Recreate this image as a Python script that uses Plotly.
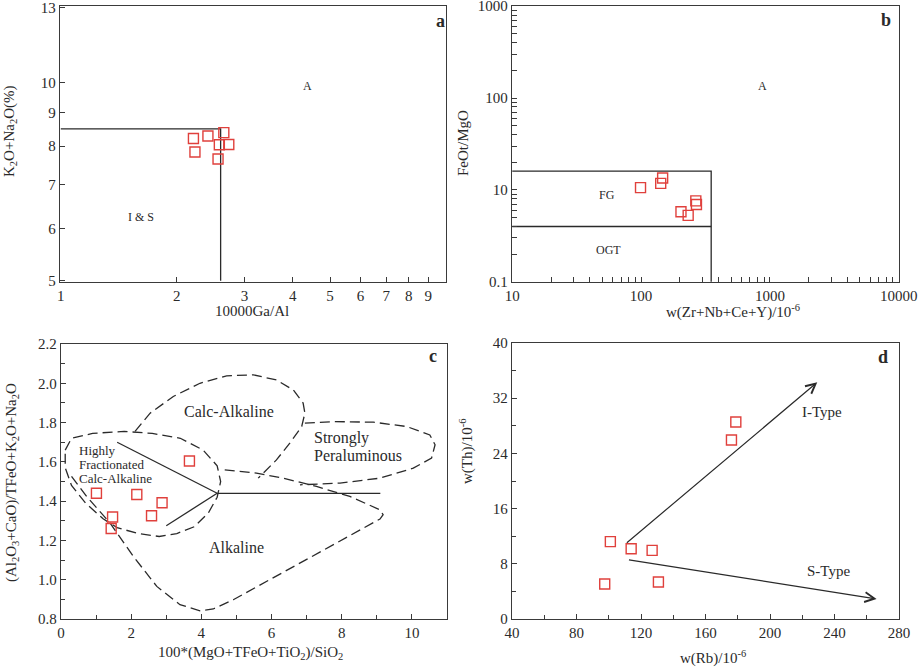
import numpy as np
import plotly.graph_objects as go

# ---- panel a: 10000Ga/Al vs K2O+Na2O ----
a_gaal = [2.21, 2.41, 2.65, 2.58, 2.73, 2.23, 2.56]
a_alk = [8.22, 8.29, 8.39, 8.04, 8.05, 7.84, 7.65]
a_bound_x = [1, 2.6, 2.6]
a_bound_y = [8.5, 8.5, 5]
a_xticks = [1, 2, 3, 4, 5, 6, 7, 8, 9]
a_yticks = [5, 6, 7, 8, 9, 10, 13]

# ---- panel b: Zr+Nb+Ce+Y vs FeOt/MgO ----
b_zr = [99, 142, 147, 204, 232, 266, 269]
b_feo = [10.6, 11.8, 13.5, 5.78, 5.28, 7.6, 6.95]
b_box_x = [10, 350, 350]
b_box_y = [16, 16, 1]
b_mid_x = [10, 350]
b_mid_y = [4, 4]
b_xticks = [10, 100, 1000, 10000]
b_yticks = [1, 10, 100, 1000]
b_yticktext = ["0.1", "10", "100", "1000"]

# ---- panel c: Sylvester diagram ----
c_x = [1.01, 2.16, 3.66, 2.88, 2.58, 1.47, 1.43]
c_y = [1.44, 1.434, 1.604, 1.392, 1.326, 1.319, 1.261]
c_solid = [
    ([1.6, 4.45], [1.70, 1.44]),
    ([4.45, 9.1], [1.44, 1.44]),
    ([3.0, 4.45], [1.275, 1.44]),
]
c_hfca_x = [0.12, 0.3, 0.9, 1.8, 2.6, 3.4, 4.05, 4.45, 4.55, 4.45, 4.2, 3.8,
            3.3, 2.8, 2.2, 1.6, 1.2, 0.7, 0.3, 0.12, 0.12]
c_hfca_y = [1.66, 1.72, 1.745, 1.755, 1.745, 1.72, 1.66, 1.58, 1.5, 1.42, 1.34,
            1.27, 1.235, 1.22, 1.235, 1.265, 1.31, 1.39, 1.48, 1.57, 1.66]
c_alk_x = [0.3, 0.73, 1.4, 2.06, 2.73, 3.39, 3.96, 4.34, 4.91, 5.86, 6.81, 7.76,
           8.71, 9.09, 9.18, 9.09, 8.23, 7.28, 6.33, 5.57, 4.62]
c_alk_y = [1.526, 1.424, 1.288, 1.119, 0.966, 0.873, 0.842, 0.851, 0.898, 0.992,
           1.085, 1.178, 1.271, 1.309, 1.331, 1.356, 1.424, 1.475, 1.517, 1.543, 1.56]
c_ca_x = [2.11, 2.54, 3.2, 3.96, 4.72, 5.48, 6.14, 6.62, 6.9, 6.95, 6.86, 6.52,
          6.14, 5.62]
c_ca_y = [1.755, 1.848, 1.933, 2.0, 2.038, 2.043, 2.017, 1.966, 1.899, 1.848,
          1.78, 1.695, 1.61, 1.517]
c_sp_x = [6.95, 7.76, 8.9, 9.85, 10.51, 10.66, 10.56, 10.04, 9.09, 7.95, 6.81]
c_sp_y = [1.797, 1.805, 1.802, 1.78, 1.737, 1.687, 1.619, 1.568, 1.517, 1.492, 1.483]

# ---- panel d: Rb vs Th ----
d_rb = [101.0, 113.9, 126.9, 97.5, 130.8, 176.1, 178.8]
d_th = [11.21, 10.19, 9.95, 5.07, 5.36, 25.94, 28.55]
d_itype = [(110.3, 10.87), (229.3, 34.3)]
d_stype = [(111.6, 8.6), (266.1, 2.9)]

RED = "#e0403c"
INK = "#2a2a2a"
FONT = "Liberation Serif"
W, H = 920, 667
EPS = 0.002  # tiny pad so the end ticks of log axes are still drawn

fig = go.Figure()

marker = dict(symbol="square-open", size=10, color=RED, line=dict(width=1.4, color=RED))


def line(x, y, ax, dash=None):
    fig.add_trace(go.Scatter(x=x, y=y, mode="lines", xaxis="x" + ax, yaxis="y" + ax,
                             line=dict(color=INK, width=1.3, dash=dash),
                             hoverinfo="skip", showlegend=False))


def pts(x, y, ax):
    fig.add_trace(go.Scatter(x=x, y=y, mode="markers", xaxis="x" + ax, yaxis="y" + ax,
                             marker=marker, showlegend=False))


# panel a
line(a_bound_x, a_bound_y, "")
pts(a_gaal, a_alk, "")
# panel b
line(b_box_x, b_box_y, "2")
line(b_mid_x, b_mid_y, "2")
pts(b_zr, b_feo, "2")
# panel c
DASH = "10px,5px"
for xs, ys in [(c_hfca_x, c_hfca_y), (c_alk_x, c_alk_y), (c_ca_x, c_ca_y), (c_sp_x, c_sp_y)]:
    line(xs, ys, "3", dash=DASH)
for xs, ys in c_solid:
    line(xs, ys, "3")
pts(c_x, c_y, "3")
# panel d
pts(d_rb, d_th, "4")


def px_x(p):
    return p / W


def px_y(p):
    return 1 - p / H


tickfont = dict(family=FONT, size=15, color=INK)
base_axis = dict(showline=True, mirror=True, linecolor="#3a3a3a", linewidth=1.3,
                 ticks="inside", ticklen=5, tickcolor="#3a3a3a", tickfont=tickfont,
                 showgrid=False, zeroline=False, automargin=False,
                 ticklabeloverflow="allow")


def minor_vals(lo, hi):
    out = []
    for d in range(lo, hi):
        for m in range(1, 10):
            out.append(m * 10 ** d)
    out.append(10 ** hi)
    return out


b_xall = minor_vals(1, 4)
b_yall = minor_vals(0, 3)
minor = dict(ticks="inside", ticklen=4, tickcolor="#3a3a3a")

layout = dict(
    width=W, height=H, margin=dict(l=0, r=0, t=0, b=0),
    paper_bgcolor="white", plot_bgcolor="white",
    font=dict(family=FONT, color=INK),
    xaxis=dict(base_axis, domain=[px_x(60), px_x(446)], anchor="y", type="log",
               range=[-EPS, 1.0], tickvals=a_xticks, ticktext=[str(v) for v in a_xticks]),
    yaxis=dict(base_axis, domain=[px_y(282), px_y(6)], anchor="x", type="log",
               range=[np.log10(5) - EPS, np.log10(13) + EPS], tickvals=a_yticks,
               ticktext=[str(v) for v in a_yticks]),
    xaxis2=dict(base_axis, domain=[px_x(512), px_x(899)], anchor="y2", type="log",
                range=[1 - EPS, 4 + EPS], tickvals=b_xall,
                ticktext=[str(v) if v in b_xticks else "" for v in b_xall]),
    yaxis2=dict(base_axis, domain=[px_y(282), px_y(6)], anchor="x2", type="log",
                range=[-EPS, 3 + EPS], tickvals=b_yall,
                ticktext=[b_yticktext[b_yticks.index(v)] if v in b_yticks else "" for v in b_yall]),
    xaxis3=dict(base_axis, domain=[px_x(61), px_x(447)], anchor="y3",
                range=[0, 11], dtick=2, tick0=0, minor=dict(minor, dtick=1)),
    yaxis3=dict(base_axis, domain=[px_y(619), px_y(344)], anchor="x3",
                range=[0.8, 2.2], dtick=0.2, tick0=0.8, tickformat=".1f",
                minor=dict(minor, dtick=0.1)),
    xaxis4=dict(base_axis, domain=[px_x(512), px_x(899)], anchor="y4",
                range=[40, 280], dtick=40, tick0=40, minor=dict(minor, dtick=20)),
    yaxis4=dict(base_axis, domain=[px_y(619), px_y(343)], anchor="x4",
                range=[0, 40], dtick=8, tick0=0, minor=dict(minor, dtick=4)),
)
fig.update_layout(**layout)

ann = []


def txt(x, y, s, ax="", size=12, xanchor="center", bold=False):
    if bold:
        s = "<b>" + s + "</b>"
    ann.append(dict(x=x, y=y, xref="x" + ax, yref="y" + ax, text=s, showarrow=False,
                    font=dict(family=FONT, size=size, color=INK),
                    xanchor=xanchor, yanchor="middle"))


def ptxt(x, y, s, size=15, angle=0):
    ann.append(dict(x=px_x(x), y=px_y(y), xref="paper", yref="paper", text=s,
                    showarrow=False, textangle=angle, xanchor="center", yanchor="middle",
                    font=dict(family=FONT, size=size, color=INK)))


# region labels (log axes take log10 positions)
txt(np.log10(4.38), np.log10(9.86), "A", size=12)
txt(np.log10(1.62), np.log10(6.24), "I & S", size=12)
txt(np.log10(9.7), np.log10(12.4), "a", size=18, bold=True)
txt(np.log10(879), np.log10(134), "A", "2", size=12)
txt(np.log10(54.4), np.log10(8.8), "FG", "2", size=12)
txt(np.log10(56), np.log10(2.2), "OGT", "2", size=12)
txt(np.log10(8000), np.log10(700), "b", "2", size=18, bold=True)

txt(4.8, 1.856, "Calc-Alkaline", "3", size=16)
txt(7.15, 1.72, "Strongly", "3", size=16, xanchor="left")
txt(7.15, 1.63, "Peraluminous", "3", size=16, xanchor="left")
txt(0.47, 1.656, "Highly", "3", size=13, xanchor="left")
txt(0.47, 1.586, "Fractionated", "3", size=13, xanchor="left")
txt(0.47, 1.517, "Calc-Alkaline", "3", size=13, xanchor="left")
txt(4.99, 1.166, "Alkaline", "3", size=16)
txt(10.6, 2.14, "c", "3", size=18, bold=True)

txt(232, 29.95, "I-Type", "4", size=15)
txt(236, 7.0, "S-Type", "4", size=15)
txt(270, 38.0, "d", "4", size=18, bold=True)

for (x0, y0), (x1, y1) in [d_itype, d_stype]:
    ann.append(dict(x=x1, y=y1, ax=x0, ay=y0, xref="x4", yref="y4", axref="x4", ayref="y4",
                    text="", showarrow=True, arrowhead=5, arrowsize=1.6, arrowwidth=1.2,
                    arrowcolor=INK))

# axis titles
ptxt(252, 311, "10000Ga/Al")
ptxt(10, 132, "K<sub>2</sub>O+Na<sub>2</sub>O(%)", angle=-90)
ptxt(733, 311, "w(Zr+Nb+Ce+Y)/10<sup>-6</sup>")
ptxt(463, 143, "FeOt/MgO", angle=-90)
ptxt(250, 653, "100*(MgO+TFeO+TiO<sub>2</sub>)/SiO<sub>2</sub>")
ptxt(12, 483, "(Al<sub>2</sub>O<sub>3</sub>+CaO)/TFeO+K<sub>2</sub>O+Na<sub>2</sub>O", angle=-90)
ptxt(713, 657, "w(Rb)/10<sup>-6</sup>")
ptxt(467, 452, "w(Th)/10<sup>-6</sup>", angle=-90)

fig.update_layout(annotations=ann)
fig.write_html("out.html", config={"displayModeBar": False},
               post_script="document.body.style.margin='0px';document.body.style.overflow='hidden';")
